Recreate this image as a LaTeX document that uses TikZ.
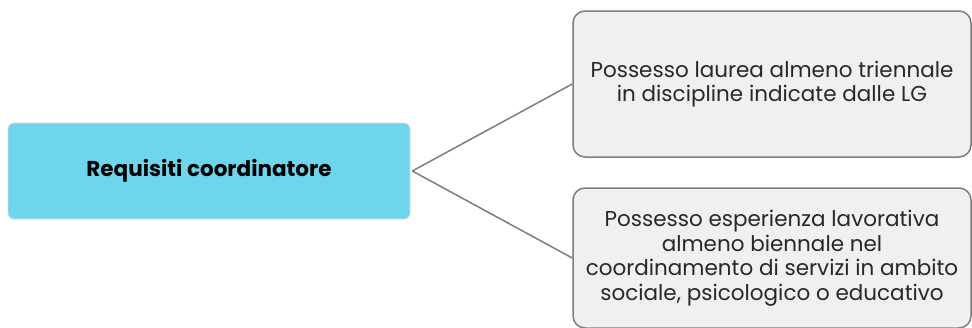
\documentclass[tikz,border=0pt]{standalone}
\usepackage{fontspec}
\setmainfont{Poppins}
\usepackage{tikz}
\usetikzlibrary{calc}
\definecolor{reqcyan}{RGB}{109,214,236}
\definecolor{reqgray}{RGB}{240,240,240}
\definecolor{reqline}{RGB}{125,125,125}
\definecolor{reqtext}{RGB}{40,40,40}

\begin{document}
\begin{tikzpicture}
        [
        x = 1pt, y = -1pt,
        rootbox/.style  = {draw=white!85!black, line width=0.6pt, fill=reqcyan,
                           rounded corners=6pt, minimum width=402pt,
                           minimum height=96pt, font=\bfseries\fontsize{21.5}{24}\selectfont},
        leafbox/.style  = {draw=reqline, line width=1.5pt, fill=reqgray,
                           rounded corners=12pt, minimum width=398pt,
                           align=center, text=reqtext,
                           font=\fontsize{21.5}{24.5}\selectfont},
        branch/.style   = {draw=reqline, line width=1.5pt}
        ]
        \useasboundingbox (0,0) rectangle (972,327);
        \node [rootbox] (coord) at (209,171) {Requisiti coordinatore};
        \node [leafbox, minimum height=146pt] (req1) at (772,84)
                {Possesso laurea almeno triennale\\
                 in discipline indicate dalle LG};
        \node [leafbox, minimum height=140pt] (req2) at (772,258)
                {Possesso esperienza lavorativa\\
                 almeno biennale nel\\
                 coordinamento di servizi in ambito\\
                 sociale, psicologico o educativo};
        \path
        ([xshift=2pt]coord.east) edge [branch] (req1.west)
        ([xshift=2pt]coord.east) edge [branch] (req2.west);
\end{tikzpicture}
\end{document}
